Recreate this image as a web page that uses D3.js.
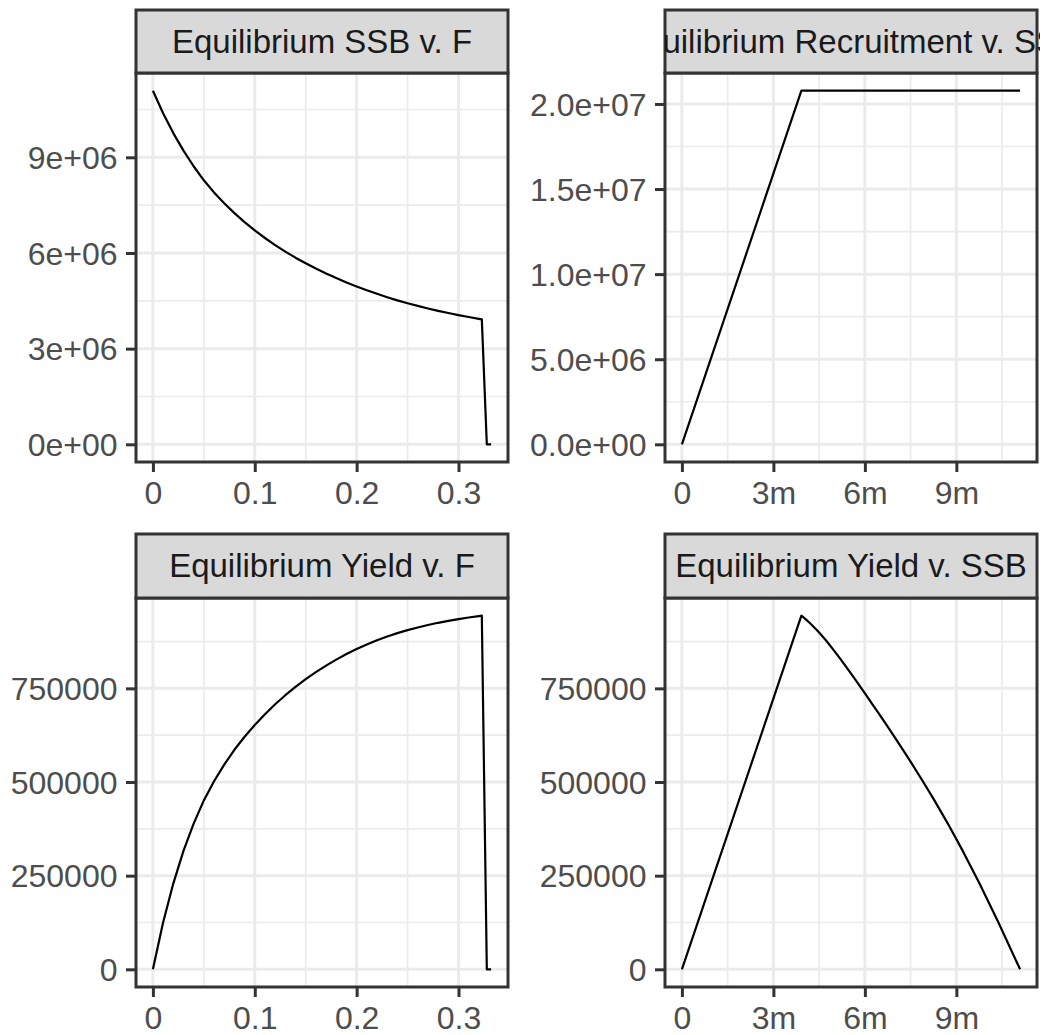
<!DOCTYPE html>
<html>
<head>
<meta charset="utf-8">
<script src="https://cdn.jsdelivr.net/npm/d3@7"></script>
<style>
  body { margin: 0; background: #fff; }
  text { font-family: "Liberation Sans", Arial, Helvetica, sans-serif; }
</style>
</head>
<body>
<svg width="1044" height="1035"></svg>
<script>
// fishing mortality grid and the equilibrium values
const fValues = [0, 0.01, 0.02, 0.03, 0.04, 0.05, 0.06, 0.07, 0.08, 0.09, 0.10,
  0.11, 0.12, 0.13, 0.14, 0.15, 0.16, 0.17, 0.18, 0.19, 0.20,
  0.21, 0.22, 0.23, 0.24, 0.25, 0.26, 0.27, 0.28, 0.29, 0.30,
  0.31, 0.32, 0.3229, 0.3278, 0.332];
const ssbValues = [11.09e6, 10.38e6, 9.76e6, 9.21e6, 8.72e6, 8.28e6, 7.90e6, 7.56e6, 7.25e6, 6.97e6, 6.71e6,
  6.470e6, 6.248e6, 6.043e6, 5.853e6, 5.676e6, 5.511e6, 5.357e6, 5.213e6, 5.078e6, 4.951e6,
  4.832e6, 4.720e6, 4.614e6, 4.514e6, 4.424e6, 4.340e6, 4.261e6, 4.187e6, 4.118e6, 4.053e6,
  3.992e6, 3.934e6, 3.918e6, 0, 0];
const yieldValues = [0, 124900, 228900, 316100, 389000, 450900, 502100, 546600, 586000, 620700, 652400,
  681100, 707500, 731700, 753900, 774400, 793300, 810700, 826700, 841500, 854900,
  867200, 878300, 888400, 897500, 905500, 912600, 919100, 925000, 930200, 934900,
  939200, 943000, 944000, 0, 0];
const recruitValues = [20.78e6, 20.78e6, 20.78e6, 20.78e6, 20.78e6, 20.78e6, 20.78e6, 20.78e6, 20.78e6, 20.78e6, 20.78e6,
  20.78e6, 20.78e6, 20.78e6, 20.78e6, 20.78e6, 20.78e6, 20.78e6, 20.78e6, 20.78e6, 20.78e6,
  20.78e6, 20.78e6, 20.78e6, 20.78e6, 20.78e6, 20.78e6, 20.78e6, 20.78e6, 20.78e6, 20.78e6,
  20.78e6, 20.78e6, 20.78e6, 0, 0];

const fTicks = [0, 0.1, 0.2, 0.3];
const fTickLabels = ['0', '0.1', '0.2', '0.3'];
const ssbXTicks = [0, 3e6, 6e6, 9e6];
const ssbXTickLabels = ['0', '3m', '6m', '9m'];
const ssbYTicks = [0, 3e6, 6e6, 9e6];
const ssbYTickLabels = ['0e+00', '3e+06', '6e+06', '9e+06'];
const recruitTicks = [0, 5e6, 1e7, 1.5e7, 2e7];
const recruitTickLabels = ['0.0e+00', '5.0e+06', '1.0e+07', '1.5e+07', '2.0e+07'];
const yieldTicks = [0, 250000, 500000, 750000];
const yieldTickLabels = ['0', '250000', '500000', '750000'];

const data = fValues.map((f, i) => ({
  f: f, ssb: ssbValues[i], yield: yieldValues[i], rec: recruitValues[i]
}));

const svg = d3.select('svg');

const cols = [{ x0: 136, x1: 508 }, { x0: 665, x1: 1037 }];
const rows = [{ s0: 10, y0: 73, y1: 462 }, { s0: 534, y0: 598, y1: 987 }];

const midpoints = ticks => {
  const step = ticks[1] - ticks[0];
  const out = [];
  for (let i = -1; i < ticks.length; i++) out.push(ticks[0] + step * (i + 0.5));
  return out;
};

const panels = [
  { title: 'Equilibrium SSB v. F', col: 0, row: 0, x: d => d.f, y: d => d.ssb,
    xt: fTicks, xl: fTickLabels, yt: ssbYTicks, yl: ssbYTickLabels, sort: false },
  { title: 'Equilibrium Recruitment v. SSB', col: 1, row: 0, x: d => d.ssb, y: d => d.rec,
    xt: ssbXTicks, xl: ssbXTickLabels, yt: recruitTicks, yl: recruitTickLabels, sort: true },
  { title: 'Equilibrium Yield v. F', col: 0, row: 1, x: d => d.f, y: d => d.yield,
    xt: fTicks, xl: fTickLabels, yt: yieldTicks, yl: yieldTickLabels, sort: false },
  { title: 'Equilibrium Yield v. SSB', col: 1, row: 1, x: d => d.ssb, y: d => d.yield,
    xt: ssbXTicks, xl: ssbXTickLabels, yt: yieldTicks, yl: yieldTickLabels, sort: true }
];

const expand = ext => {
  const pad = (ext[1] - ext[0]) * 0.05;
  return [ext[0] - pad, ext[1] + pad];
};

panels.forEach((p, k) => {
  const c = cols[p.col];
  const r = rows[p.row];
  const w = c.x1 - c.x0;
  const h = r.y1 - r.y0;

  const xScale = d3.scaleLinear().domain(expand(d3.extent(data, p.x))).range([0, w]);
  const yScale = d3.scaleLinear().domain(expand(d3.extent(data, p.y))).range([h, 0]);

  const g = svg.append('g').attr('transform', `translate(${c.x0},${r.y0})`);

  g.append('rect').attr('width', w).attr('height', h).attr('fill', '#fff');

  const xMinor = midpoints(p.xt).filter(v => xScale(v) > 0 && xScale(v) < w);
  const yMinor = midpoints(p.yt).filter(v => yScale(v) > 0 && yScale(v) < h);

  g.selectAll('.vminor').data(xMinor).enter().append('line')
    .attr('x1', d => xScale(d)).attr('x2', d => xScale(d))
    .attr('y1', 0).attr('y2', h)
    .attr('stroke', '#EBEBEB').attr('stroke-width', 1.7);
  g.selectAll('.hminor').data(yMinor).enter().append('line')
    .attr('y1', d => yScale(d)).attr('y2', d => yScale(d))
    .attr('x1', 0).attr('x2', w)
    .attr('stroke', '#EBEBEB').attr('stroke-width', 1.7);
  g.selectAll('.vmajor').data(p.xt).enter().append('line')
    .attr('x1', d => xScale(d)).attr('x2', d => xScale(d))
    .attr('y1', 0).attr('y2', h)
    .attr('stroke', '#EBEBEB').attr('stroke-width', 3);
  g.selectAll('.hmajor').data(p.yt).enter().append('line')
    .attr('y1', d => yScale(d)).attr('y2', d => yScale(d))
    .attr('x1', 0).attr('x2', w)
    .attr('stroke', '#EBEBEB').attr('stroke-width', 3);

  const pts = p.sort ? data.slice().sort((a, b) => p.x(a) - p.x(b)) : data;
  const line = d3.line().x(d => xScale(p.x(d))).y(d => yScale(p.y(d)));
  g.append('path').datum(pts)
    .attr('d', line)
    .attr('fill', 'none')
    .attr('stroke', '#000')
    .attr('stroke-width', 2.2)
    .attr('stroke-linejoin', 'round');

  g.append('rect').attr('width', w).attr('height', h)
    .attr('fill', 'none').attr('stroke', '#333333').attr('stroke-width', 3);

  const xAxis = d3.axisBottom(xScale)
    .tickValues(p.xt)
    .tickFormat((d, i) => p.xl[i])
    .tickSize(10)
    .tickPadding(9.5);
  const xAxisG = g.append('g').attr('transform', `translate(0,${h})`).call(xAxis);

  const yAxis = d3.axisLeft(yScale)
    .tickValues(p.yt)
    .tickFormat((d, i) => p.yl[i])
    .tickSize(10)
    .tickPadding(8.5);
  const yAxisG = g.append('g').call(yAxis);

  [xAxisG, yAxisG].forEach(a => {
    a.select('.domain').remove();
    a.selectAll('.tick line').attr('stroke', '#333333').attr('stroke-width', 3);
    a.selectAll('.tick text')
      .attr('fill', '#4D4D4D')
      .style('font-size', '32px')
      .style('font-family', '"Liberation Sans", Arial, sans-serif');
  });
  yAxisG.selectAll('.tick text').attr('dy', '0.35em');

  // strip
  const sh = r.y0 - r.s0;
  const strip = svg.append('g').attr('transform', `translate(${c.x0},${r.s0})`);
  svg.append('clipPath').attr('id', `clip${k}`)
    .append('rect').attr('x', c.x0).attr('y', r.s0).attr('width', w + 3).attr('height', sh);
  strip.append('rect').attr('width', w).attr('height', sh)
    .attr('fill', '#D9D9D9').attr('stroke', '#333333').attr('stroke-width', 3);
  svg.append('text')
    .attr('clip-path', `url(#clip${k})`)
    .attr('x', c.x0 + w / 2)
    .attr('y', r.s0 + sh / 2 + 11)
    .attr('text-anchor', 'middle')
    .attr('fill', '#1A1A1A')
    .style('font-size', '33px')
    .text(p.title);
});
</script>
</body>
</html>
